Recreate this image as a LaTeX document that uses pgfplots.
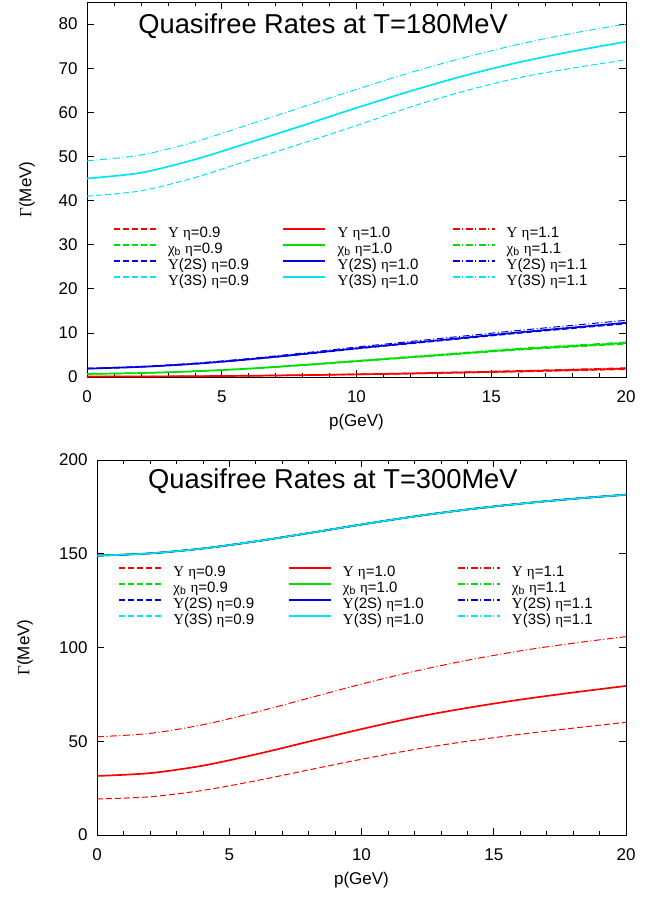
\documentclass[border=0pt]{standalone}
\usepackage{fontspec}
\setmainfont{Liberation Sans}
\newfontfamily\grk{Liberation Serif}
\usepackage{pgfplots}
\pgfplotsset{compat=1.18}
\usepackage{pgfplotstable}

\definecolor{gpred}{rgb}{1,0,0}
\definecolor{gpgreen}{rgb}{0,0.88,0}
\definecolor{gpblue}{rgb}{0,0,0.9}
\definecolor{gpcyan}{rgb}{0,0.9,0.94}

\newcommand{\Ups}{{\grk Υ}}
\newcommand{\et}{{\grk η}}
\newcommand{\chib}{{\grk χ}\textsubscript{b}}
\newcommand{\ent}[1]{\hspace{11pt}\makebox[114pt][l]{#1}}

% T = 180 MeV
\pgfplotstableread{
p   Ya    Yb    Yc    Ca    Cb    Cc    Ba     Bb    Bc     Sa    Sb    Sc
0   0.09  0.10  0.11  0.68  0.70  0.72  1.86   1.90  1.99   41.0  45.0  49.0
2   0.11  0.12  0.13  0.87  0.90  0.93  2.25   2.30  2.40   42.2  46.3  50.3
4   0.16  0.18  0.20  1.26  1.30  1.34  2.94   3.00  3.14   45.2  49.3  53.3
6   0.25  0.28  0.31  1.84  1.90  1.96  3.92   4.00  4.18   49.1  53.1  57.2
8   0.38  0.42  0.46  2.62  2.70  2.78  5.10   5.20  5.43   53.0  57.0  61.2
10  0.54  0.60  0.66  3.49  3.60  3.71  6.37   6.50  6.79   57.0  61.0  65.2
12  0.72  0.80  0.88  4.37  4.50  4.63  7.55   7.70  8.05   61.2  64.8  69.0
14  0.95  1.05  1.15  5.24  5.40  5.56  8.72   8.90  9.30   64.8  68.3  72.4
16  1.17  1.30  1.43  6.11  6.30  6.49  9.90   10.10 10.55  67.8  71.3  75.4
18  1.44  1.60  1.76  6.79  7.00  7.21  10.98  11.20 11.70  70.0  73.8  77.9
20  1.71  1.90  2.09  7.47  7.70  7.93  12.05  12.30 12.85  71.9  76.0  80.0
}\lowT

% T = 300 MeV
\pgfplotstableread{
p   Ya    Yb    Yc     X
0   19.2  31.5  52.4   149.0
2   20.4  33.0  54.2   150.2
4   23.8  37.0  58.8   152.8
6   28.9  43.0  65.5   156.6
8   34.7  49.8  73.0   161.0
10  40.4  56.5  80.5   165.6
12  45.6  62.7  87.3   169.9
14  50.0  67.8  93.2   173.6
16  53.7  72.2  98.2   176.7
18  57.0  76.0  102.3  179.3
20  60.1  79.5  105.8  181.5
}\highT

\pgfkeys{/tikz/legw/.initial=2pt}
\tikzset{
  sA/.style={dash pattern=on 6pt off 3pt, line width=1pt, legw=2pt},
  sB/.style={solid, line width=1.7pt, legw=2.6pt},
  sC/.style={dash pattern=on 7pt off 2.5pt on 1pt off 2.5pt, line width=1pt, legw=2pt},
}

\pgfplotsset{
  legend image code/.code={\draw[#1, line width=\pgfkeysvalueof{/tikz/legw}] (0pt,4.5pt) -- (42pt,4.5pt);},
  myax/.style={
    scale only axis,
    xmin=0, xmax=20,
    xtick={0,5,...,20},
    minor x tick num=4,
    tick align=inside,
    major tick length=7pt,
    minor tick length=4pt,
    tick style={black, line width=0.6pt},
    axis line style={line width=0.8pt},
    ticklabel style={font=\fontsize{17}{17}\selectfont},
    xticklabel style={anchor=center, yshift=-20pt},
    yticklabel style={xshift=-6pt},
    label style={font=\fontsize{17}{17}\selectfont},
    /pgf/number format/assume math mode=true,
    xlabel={p(GeV)},
    ylabel={{\grk Γ}(MeV)},
    legend columns=3,
    legend cell align=left,
    legend style={draw=none, fill=none, inner sep=0pt, row sep=2.5pt, column sep=0pt,
      font=\fontsize{15}{15}\selectfont,
      nodes={inner sep=0pt, text height=10.5pt, text depth=3pt}},
    every axis plot/.append style={smooth, no markers},
  }
}

\begin{document}
\begin{tikzpicture}
\path (0pt,0pt) rectangle (667pt,-897pt);

\begin{axis}[myax,
  at={(87pt,-377pt)}, anchor=south west,
  width=539pt, height=375pt,
  ymin=0, ymax=85, ytick={0,10,...,80},
  xlabel style={at={([yshift=-45pt]rel axis cs:0.5,0)}, anchor=center},
  ylabel style={at={([xshift=-60pt]rel axis cs:0,0.5)}, anchor=center, rotate=0},
  legend style={at={(rel axis cs:0.048,0.401)}, anchor=north west},
]
\addplot[gpred, sA]   table[x=p,y=Ya] {\lowT}; \addlegendentry{\ent{\Ups{} \et=0.9}}
\addplot[gpred, sB]   table[x=p,y=Yb] {\lowT}; \addlegendentry{\ent{\Ups{} \et=1.0}}
\addplot[gpred, sC]   table[x=p,y=Yc] {\lowT}; \addlegendentry{\ent{\Ups{} \et=1.1}}
\addplot[gpgreen, sA] table[x=p,y=Ca] {\lowT}; \addlegendentry{\ent{\chib{} \et=0.9}}
\addplot[gpgreen, sB] table[x=p,y=Cb] {\lowT}; \addlegendentry{\ent{\chib{} \et=1.0}}
\addplot[gpgreen, sC] table[x=p,y=Cc] {\lowT}; \addlegendentry{\ent{\chib{} \et=1.1}}
\addplot[gpblue, sA]  table[x=p,y=Ba] {\lowT}; \addlegendentry{\ent{\Ups(2S) \et=0.9}}
\addplot[gpblue, sB]  table[x=p,y=Bb] {\lowT}; \addlegendentry{\ent{\Ups(2S) \et=1.0}}
\addplot[gpblue, sC]  table[x=p,y=Bc] {\lowT}; \addlegendentry{\ent{\Ups(2S) \et=1.1}}
\addplot[gpcyan, sA]  table[x=p,y=Sa] {\lowT}; \addlegendentry{\ent{\Ups(3S) \et=0.9}}
\addplot[gpcyan, sB]  table[x=p,y=Sb] {\lowT}; \addlegendentry{\ent{\Ups(3S) \et=1.0}}
\addplot[gpcyan, sC]  table[x=p,y=Sc] {\lowT}; \addlegendentry{\ent{\Ups(3S) \et=1.1}}
\node[font=\fontsize{27.3}{27.3}\selectfont, anchor=base] at (rel axis cs:0.438,0.917) {Quasifree Rates at T=180MeV};
\end{axis}

\begin{axis}[myax,
  at={(97pt,-835pt)}, anchor=south west,
  width=529pt, height=375pt,
  ymin=0, ymax=200, ytick={0,50,...,200},
  xlabel style={at={([yshift=-45pt]rel axis cs:0.5,0)}, anchor=center},
  ylabel style={at={([xshift=-72pt]rel axis cs:0,0.5)}, anchor=center, rotate=0},
  legend style={at={(rel axis cs:0.040,0.719)}, anchor=north west},
]
\addplot[gpred, sA]   table[x=p,y=Ya] {\highT}; \addlegendentry{\ent{\Ups{} \et=0.9}}
\addplot[gpred, sB]   table[x=p,y=Yb] {\highT}; \addlegendentry{\ent{\Ups{} \et=1.0}}
\addplot[gpred, sC]   table[x=p,y=Yc] {\highT}; \addlegendentry{\ent{\Ups{} \et=1.1}}
\addplot[gpgreen, sA] table[x=p,y=X] {\highT}; \addlegendentry{\ent{\chib{} \et=0.9}}
\addplot[gpgreen, sB] table[x=p,y=X] {\highT}; \addlegendentry{\ent{\chib{} \et=1.0}}
\addplot[gpgreen, sC] table[x=p,y=X] {\highT}; \addlegendentry{\ent{\chib{} \et=1.1}}
\addplot[gpblue, sA]  table[x=p,y=X] {\highT}; \addlegendentry{\ent{\Ups(2S) \et=0.9}}
\addplot[gpblue, sB]  table[x=p,y=X] {\highT}; \addlegendentry{\ent{\Ups(2S) \et=1.0}}
\addplot[gpblue, sC]  table[x=p,y=X] {\highT}; \addlegendentry{\ent{\Ups(2S) \et=1.1}}
\addplot[gpcyan, sA]  table[x=p,y=X] {\highT}; \addlegendentry{\ent{\Ups(3S) \et=0.9}}
\addplot[gpcyan, sB, line width=1.3pt]  table[x=p,y=X] {\highT}; \addlegendentry{\ent{\Ups(3S) \et=1.0}}
\addplot[gpcyan, sC]  table[x=p,y=X] {\highT}; \addlegendentry{\ent{\Ups(3S) \et=1.1}}
\node[font=\fontsize{27.3}{27.3}\selectfont, anchor=base] at (rel axis cs:0.446,0.9245) {Quasifree Rates at T=300MeV};
\end{axis}
\end{tikzpicture}
\end{document}
